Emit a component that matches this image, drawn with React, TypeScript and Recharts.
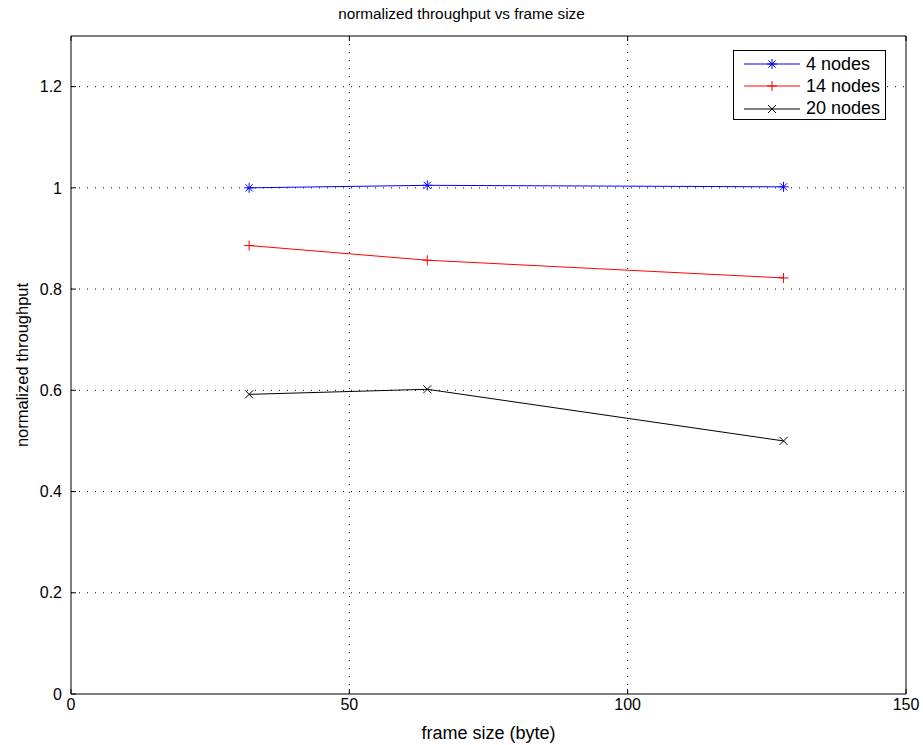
import {
  CartesianGrid,
  Line,
  LineChart,
  XAxis,
  YAxis,
} from 'recharts';

const frameSizes = [32, 64, 128];
const nodes4 = [1.0, 1.005, 1.002];
const nodes14 = [0.886, 0.857, 0.822];
const nodes20 = [0.592, 0.602, 0.5];

const xTicks = [0, 50, 100, 150];
const yTicks = [0, 0.2, 0.4, 0.6, 0.8, 1, 1.2];

const data = frameSizes.map((size, i) => ({
  size,
  n4: nodes4[i],
  n14: nodes14[i],
  n20: nodes20[i],
}));

const FONT = 'Liberation Sans, Arial, Helvetica, sans-serif';

type MarkerKind = 'star' | 'plus' | 'cross';

function Marker({ kind, cx, cy, color }: { kind: MarkerKind; cx: number; cy: number; color: string }) {
  const r = 5;
  const d = r * 0.72;
  if (kind === 'plus') {
    return (
      <g stroke={color} strokeWidth={1}>
        <line x1={cx - r} y1={cy} x2={cx + r} y2={cy} />
        <line x1={cx} y1={cy - r} x2={cx} y2={cy + r} />
      </g>
    );
  }
  if (kind === 'cross') {
    return (
      <g stroke={color} strokeWidth={1}>
        <line x1={cx - 4} y1={cy - 4} x2={cx + 4} y2={cy + 4} />
        <line x1={cx - 4} y1={cy + 4} x2={cx + 4} y2={cy - 4} />
      </g>
    );
  }
  return (
    <g stroke={color} strokeWidth={1}>
      <line x1={cx - r} y1={cy} x2={cx + r} y2={cy} />
      <line x1={cx} y1={cy - r} x2={cx} y2={cy + r} />
      <line x1={cx - d} y1={cy - d} x2={cx + d} y2={cy + d} />
      <line x1={cx - d} y1={cy + d} x2={cx + d} y2={cy - d} />
    </g>
  );
}

const markerDot = (kind: MarkerKind, color: string) => (props: any) => {
  const { cx, cy, index } = props;
  if (cx == null || cy == null) return <g key={index} />;
  return <Marker key={index} kind={kind} cx={cx} cy={cy} color={color} />;
};

const series = [
  { key: 'n4', name: '4 nodes', color: '#0000ff', kind: 'star' as MarkerKind },
  { key: 'n14', name: '14 nodes', color: '#ff0000', kind: 'plus' as MarkerKind },
  { key: 'n20', name: '20 nodes', color: '#000000', kind: 'cross' as MarkerKind },
];

function LegendBox() {
  return (
    <div
      style={{
        position: 'absolute',
        top: 50,
        left: 733,
        width: 153,
        height: 70,
        boxSizing: 'border-box',
        border: '1px solid #000',
        background: '#fff',
        paddingTop: 2,
        fontFamily: FONT,
        fontSize: 18,
        color: '#000',
      }}
    >
      {series.map((s) => (
        <div key={s.key} style={{ display: 'flex', alignItems: 'center', height: 22.3 }}>
          <svg width={72} height={20} style={{ flex: 'none' }}>
            <line x1={10} y1={10} x2={66} y2={10} stroke={s.color} strokeWidth={1} />
            <Marker kind={s.kind} cx={38} cy={10} color={s.color} />
          </svg>
          <span>{s.name}</span>
        </div>
      ))}
    </div>
  );
}

export default function App() {
  return (
    <div style={{ width: 923, height: 745, position: 'relative', background: '#fff', overflow: 'hidden' }}>
      <style>{'html, body { margin: 0; padding: 0; overflow: hidden; }'}</style>
      <div
        style={{
          position: 'absolute',
          top: 5,
          left: 0,
          width: 923,
          textAlign: 'center',
          fontFamily: FONT,
          fontSize: 15.3,
          color: '#000',
        }}
      >
        normalized throughput vs frame size
      </div>
      <LineChart
        width={923}
        height={745}
        data={data}
        margin={{ top: 35, right: 16, bottom: 0, left: 0 }}
        style={{ fontFamily: FONT }}
      >
        <CartesianGrid
          stroke="#000"
          strokeDasharray="1 7"
          horizontalValues={[0.2, 0.4, 0.6, 0.8, 1, 1.2]}
          verticalValues={[50, 100]}
        />
        <XAxis
          dataKey="size"
          type="number"
          domain={[0, 150]}
          ticks={xTicks}
          height={51}
          stroke="#000"
          tickSize={-5}
          tickMargin={10}
          tick={{ fill: '#000', fontSize: 16 }}
          label={{ value: 'frame size (byte)', position: 'insideBottom', offset: 6, fill: '#000', fontSize: 18 }}
        />
        <XAxis
          xAxisId="top"
          orientation="top"
          dataKey="size"
          type="number"
          domain={[0, 150]}
          ticks={xTicks}
          height={1}
          stroke="#000"
          tickSize={-5}
          tickFormatter={() => ''}
        />
        <YAxis
          type="number"
          domain={[0, 1.3]}
          ticks={yTicks}
          width={71}
          stroke="#000"
          tickSize={-5}
          tickMargin={14}
          tick={{ fill: '#000', fontSize: 16 }}
          label={{
            value: 'normalized throughput',
            angle: -90,
            position: 'insideLeft',
            offset: 22,
            style: { textAnchor: 'middle' },
            fill: '#000',
            fontSize: 16.5,
          }}
        />
        <YAxis
          yAxisId="right"
          orientation="right"
          type="number"
          domain={[0, 1.3]}
          ticks={yTicks}
          width={1}
          stroke="#000"
          tickSize={-5}
          tickFormatter={() => ''}
        />
        {series.map((s) => (
          <Line
            key={s.key}
            dataKey={s.key}
            name={s.name}
            stroke={s.color}
            strokeWidth={1}
            dot={markerDot(s.kind, s.color)}
            activeDot={false}
            isAnimationActive={false}
          />
        ))}
      </LineChart>
      <LegendBox />
    </div>
  );
}
